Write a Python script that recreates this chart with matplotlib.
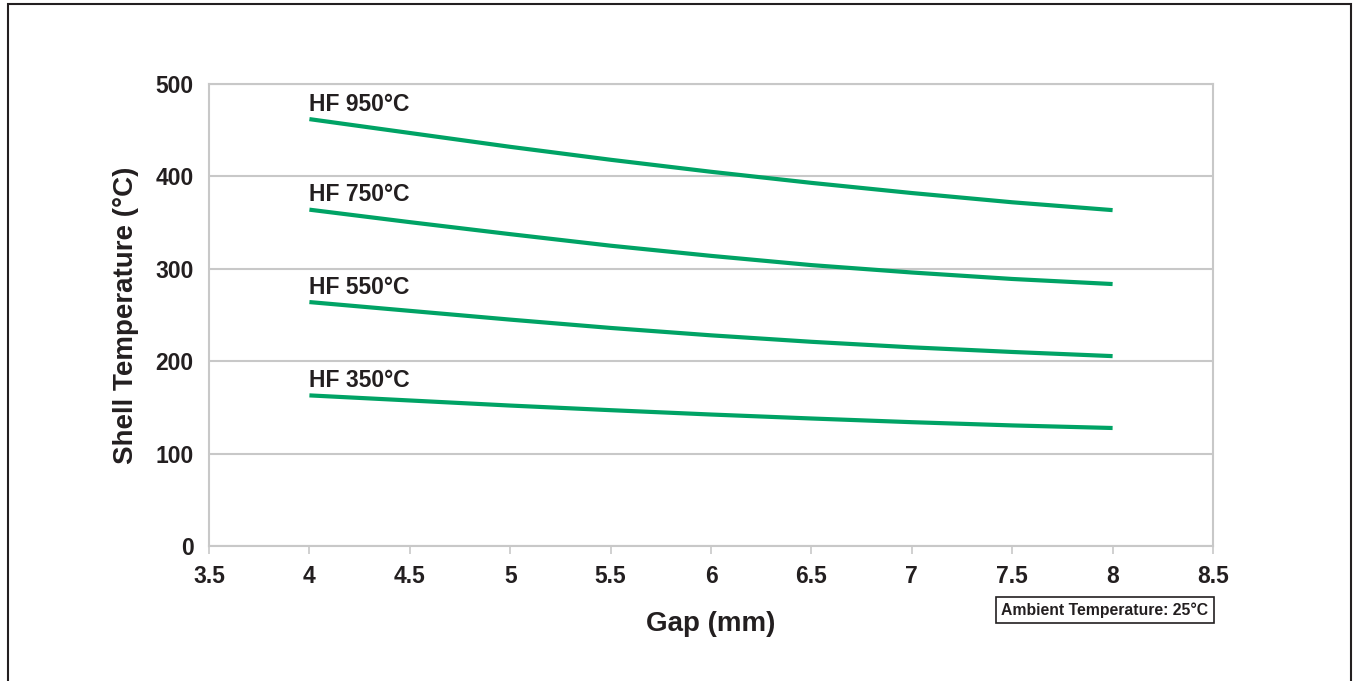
import matplotlib
matplotlib.use('Agg')
import matplotlib.pyplot as plt
from matplotlib.patches import Rectangle

# data
gap = [4.0, 4.5, 5.0, 5.5, 6.0, 6.5, 7.0, 7.5, 8.0]
hf_950 = [462, 447, 432, 418, 405, 393, 382, 372, 363.5]
hf_750 = [364, 350.5, 337.5, 325, 314, 304, 296, 289, 283.5]
hf_550 = [264, 254.5, 245, 236, 228, 221, 215, 210, 205.5]
hf_350 = [163, 157.5, 152, 147, 142.3, 138, 134, 130.5, 127.7]
series_labels = ['HF 950°C', 'HF 750°C', 'HF 550°C', 'HF 350°C']
x_ticks = [3.5, 4, 4.5, 5, 5.5, 6, 6.5, 7, 7.5, 8, 8.5]
x_tick_labels = ['3.5', '4', '4.5', '5', '5.5', '6', '6.5', '7', '7.5', '8', '8.5']
y_ticks = [0, 100, 200, 300, 400, 500]

plt.rcParams['font.family'] = ['Liberation Sans', 'DejaVu Sans']
plt.rcParams['font.weight'] = 'bold'

green = '#00a365'
grey = '#c8c8c8'
ink = '#231f20'

fig = plt.figure(figsize=(13.53, 6.81), dpi=100)
ax = fig.add_axes([209 / 1353, 1 - 546 / 681, 1004 / 1353, 462 / 681])

for ys, lab in zip([hf_950, hf_750, hf_550, hf_350], series_labels):
    ax.plot(gap, ys, color=green, lw=3, solid_capstyle='butt', zorder=3)
    ax.annotate(lab, (gap[0], ys[0]), xytext=(0, 2.5), textcoords='offset points',
                ha='left', va='bottom', fontsize=16.5, fontweight='bold', color=ink)

ax.set_xlim(3.5, 8.5)
ax.set_ylim(0, 500)
ax.set_xticks(x_ticks)
ax.set_xticklabels(x_tick_labels)
ax.set_yticks(y_ticks)
ax.tick_params(axis='x', length=6, width=1.2, color=grey, pad=8, labelsize=16.5, labelcolor=ink)
ax.tick_params(axis='y', length=0, pad=11, labelsize=16.5, labelcolor=ink)
ax.grid(axis='y', color=grey, lw=1.5, zorder=1)
for s in ax.spines.values():
    s.set_color(grey)
    s.set_linewidth(1.5)

ax.set_ylabel('Shell Temperature (°C)', fontsize=20, fontweight='bold', color=ink, labelpad=12)
ax.set_xlabel('Gap (mm)', fontsize=20, fontweight='bold', color=ink, labelpad=16)

fig.text(1105 / 1353, 1 - 610 / 681, 'Ambient Temperature: 25°C', ha='center', va='center',
         fontsize=11.3, fontweight='bold', color=ink,
         bbox=dict(boxstyle='square,pad=0.35', fc='white', ec=ink, lw=1.2))

# outer frame
fig.patches.append(Rectangle((8 / 1353, -0.05), 1343 / 1353, 1.05 - 4 / 681,
                             transform=fig.transFigure, fill=False, ec=ink, lw=1.5))

fig.savefig('out.png', dpi=100)
